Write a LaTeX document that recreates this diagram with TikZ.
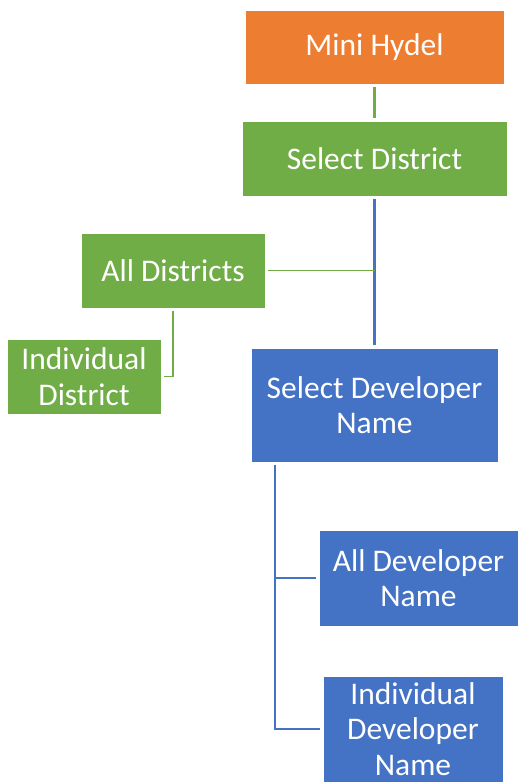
\documentclass[tikz,border=0pt]{standalone}
\usepackage{fontspec}
\setmainfont{Carlito}
\usepackage{tikz}
\usetikzlibrary{arrows.meta}
\definecolor{hydelorange}{HTML}{ED7D31}
\definecolor{distgreen}{HTML}{70AD47}
\definecolor{devblue}{HTML}{4472C4}

\begin{document}
\begin{tikzpicture}[>=Latex,x=1pt,y=-1pt,
  box/.style={fill=#1,draw=white,line width=0.5pt,text=white,align=center,inner sep=0pt,
    font=\fontsize{31.5}{35.5}\selectfont},
  link/.style={draw=#1,line width=1.8pt,shorten <=3pt,shorten >=3pt}]
\useasboundingbox (0,0) rectangle (518,782);
% top part
\node[box=hydelorange,minimum width=259,minimum height=74] (hydel) at (374.5,47) {Mini Hydel};
\node[box=distgreen,minimum width=265,minimum height=75] (seldist) at (374.5,158.5) {Select District};
\node[box=distgreen,minimum width=184,minimum height=75] (alldist) at (173,270.5) {All Districts};
\node[box=distgreen,minimum width=154,minimum height=75] (inddist) at (84,376.5) {Individual\\District};
% developer part
\node[box=devblue,minimum width=247,minimum height=114] (seldev) at (374.5,405) {Select Developer\\Name};
\node[box=devblue,minimum width=199,minimum height=96] (alldev) at (418.5,578) {All Developer\\Name};
\node[box=devblue,minimum width=180,minimum height=106] (inddev) at (413,729) {Individual\\Developer\\Name};
\coordinate (trunk) at (275,462);
% connectors
\draw[link=distgreen,line width=2.2pt] (hydel) -- (seldist);
\draw[link=devblue,line width=2.6pt] (seldist) -- (seldev);
\draw[link=distgreen,shorten >=0pt] (alldist.east) -- (alldist.east -| seldist.south);
\draw[link=distgreen] (alldist.south) |- (inddist.east);
\draw[link=devblue] (trunk) |- (alldev.west);
\draw[link=devblue] (trunk) |- (inddev.west);
\end{tikzpicture}
\end{document}
